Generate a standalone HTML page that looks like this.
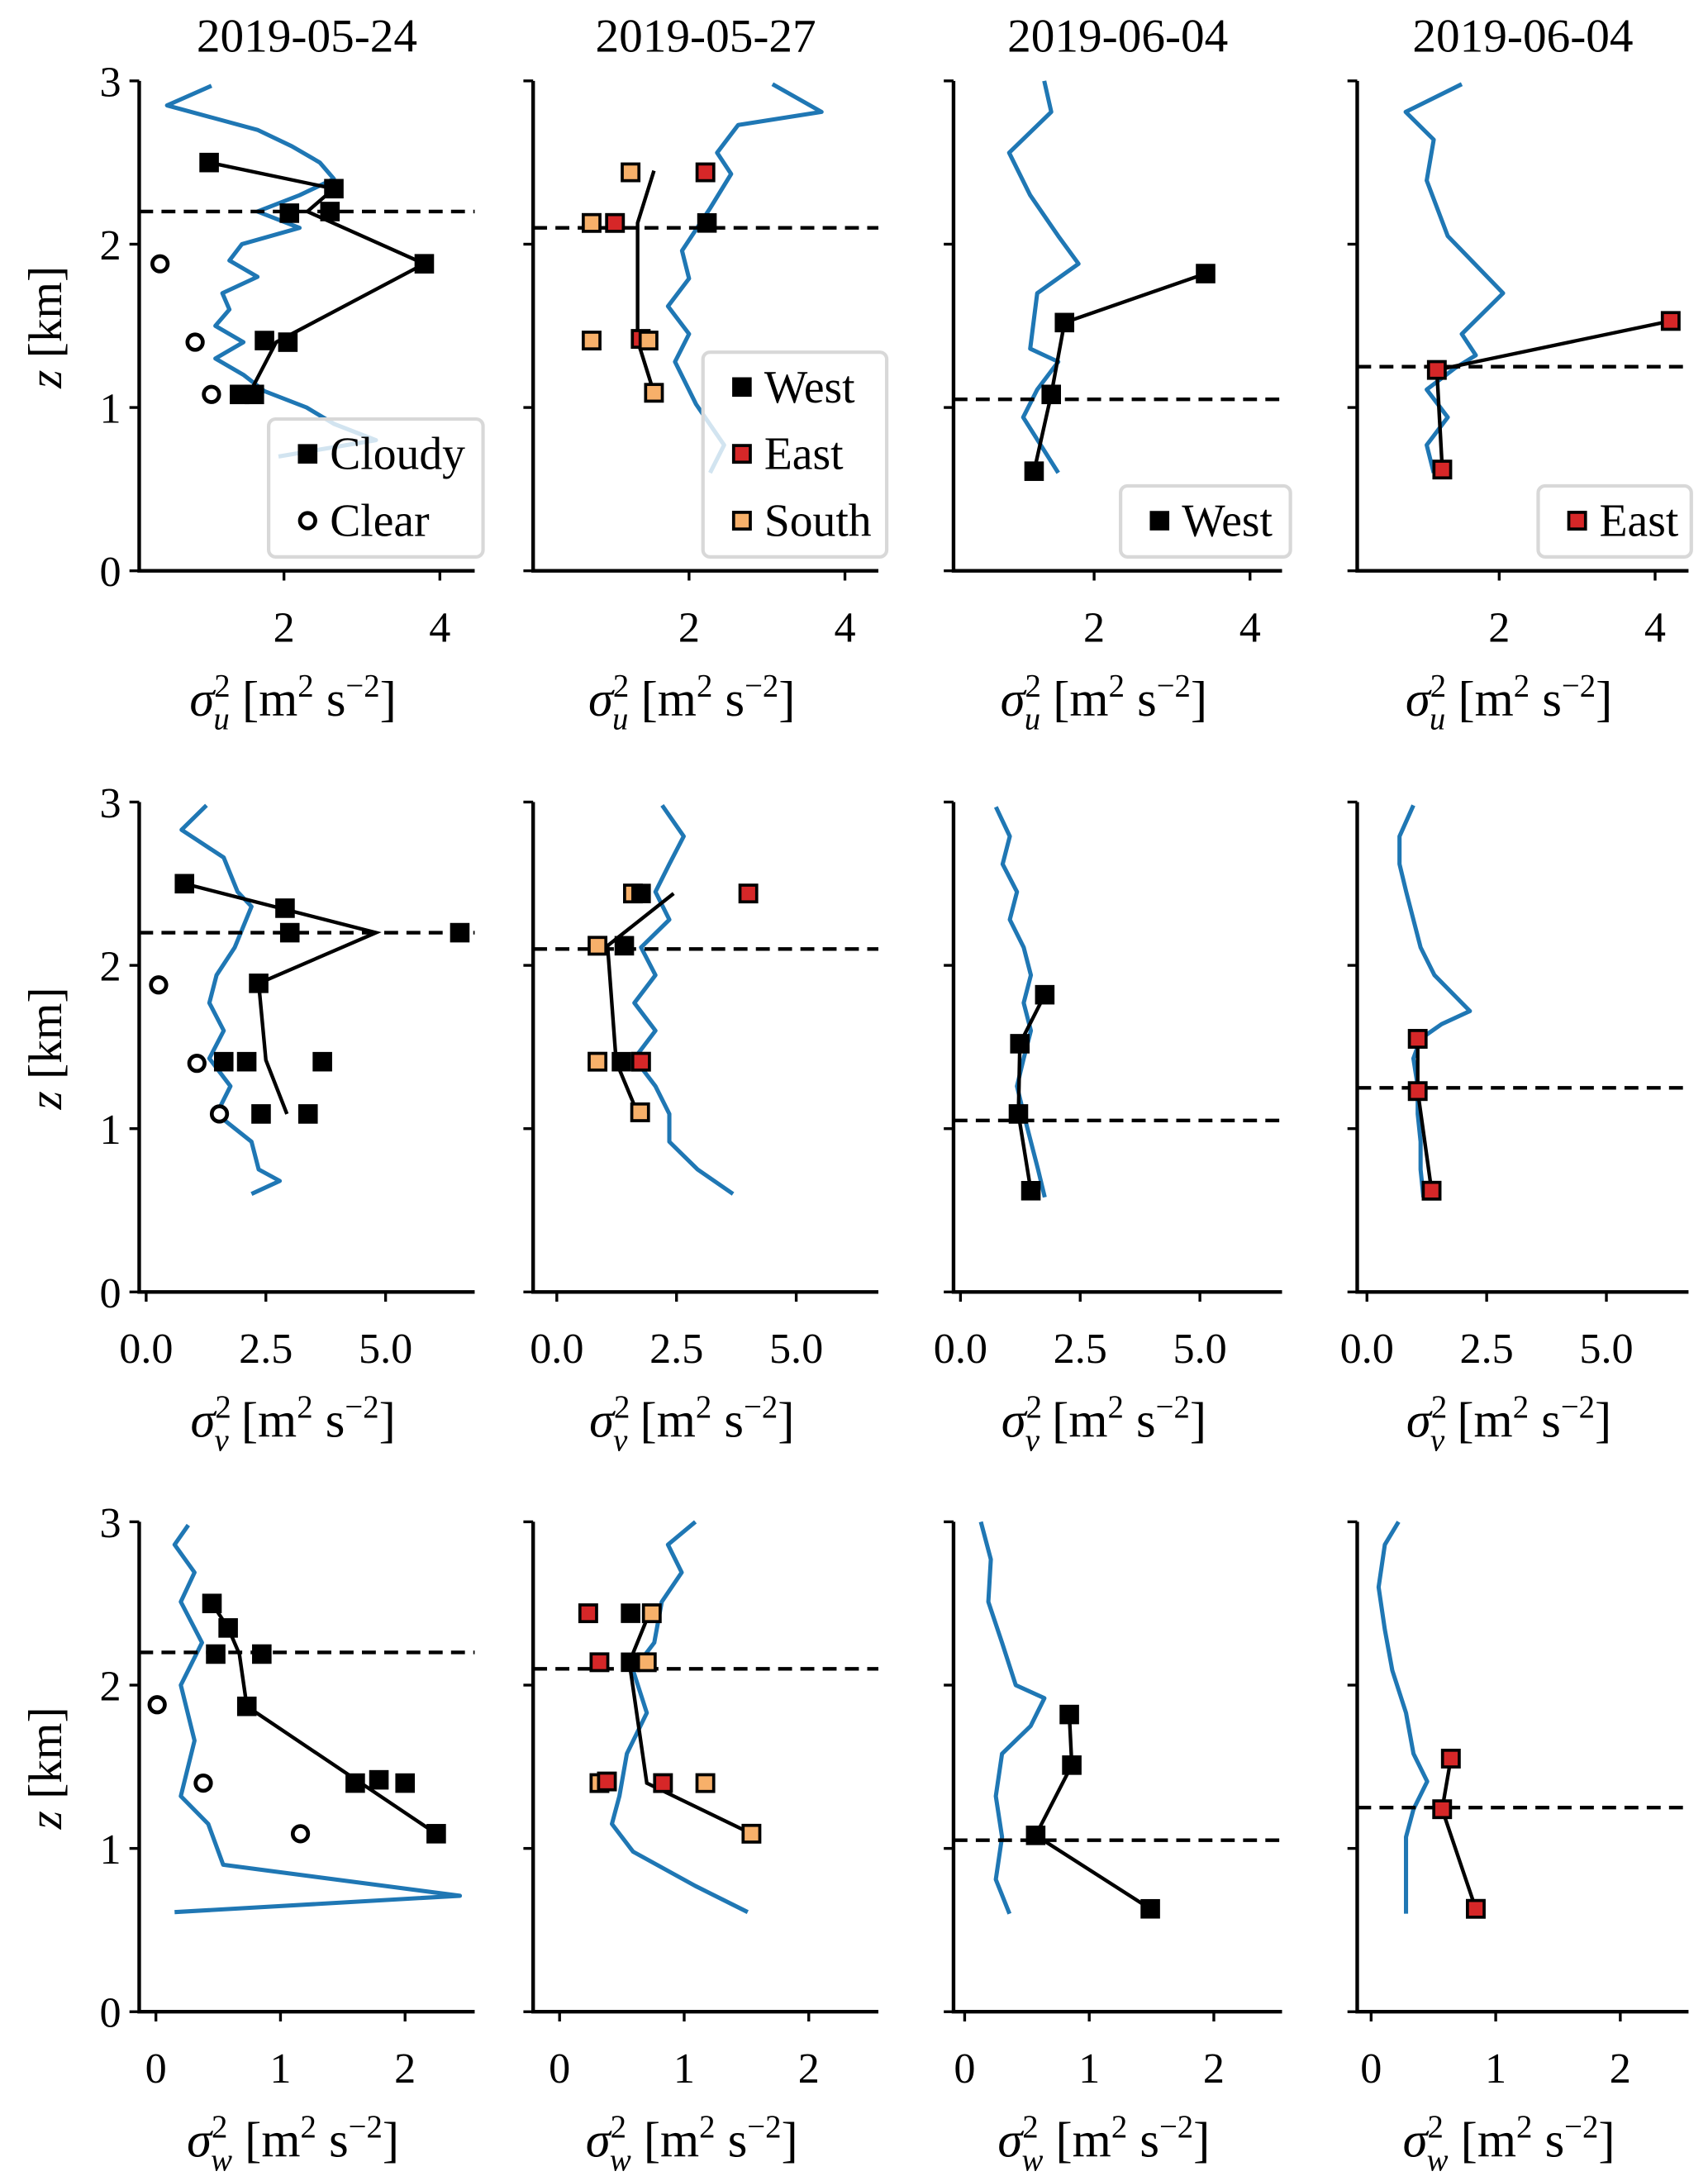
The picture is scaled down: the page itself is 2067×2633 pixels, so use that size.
<!DOCTYPE html>
<html><head><meta charset="utf-8"><style>
html,body{margin:0;padding:0;background:#fff}
svg{display:block}
text{font-family:"Liberation Serif",serif;fill:#000}
</style></head><body>
<svg id="chart" width="2067" height="2633" viewBox="0 0 1227 1563" preserveAspectRatio="none" xmlns="http://www.w3.org/2000/svg"></svg>
<script>
// ---------- data ----------
const titles = ["2019-05-24","2019-05-27","2019-06-04","2019-06-04"];
const yTicks = [0,1,2,3];
const xTicksR1 = [2,4];
const xTicksR2 = [0,2.5,5];
const xTickLabelsR2 = ["0.0","2.5","5.0"];
const xTicksR3 = [0,1,2];
const pblHeights = [2.2,2.1,1.05,1.25];

// Row 1 (sigma_u^2)
const r1c1BlueZ=[2.97,2.85,2.7,2.6,2.5,2.4,2.3,2.2,2.1,2.0,1.9,1.8,1.7,1.6,1.5,1.4,1.3,1.2,1.1,1.0,0.9,0.8,0.7];
const r1c1BlueX=[1.07,0.5,1.66,2.1,2.46,2.64,2.2,1.66,2.2,1.46,1.3,1.66,1.21,1.3,1.12,1.48,1.12,1.48,1.75,2.29,2.64,3.18,1.93];
const r1c1MZ=[2.5,2.34,2.2,2.19,1.88,1.41,1.4,1.08,1.08];
const r1c1MX=[1.04,2.64,2.59,2.07,3.8,1.75,2.05,1.43,1.62];
const r1c1MC=["k","k","k","k","k","k","k","k","k"];
const r1c1LZ=[2.5,2.34,2.2,1.88,1.4,1.08];
const r1c1LX=[1.04,2.64,2.3,3.8,1.9,1.55];
const r1c1CZ=[1.88,1.4,1.08];
const r1c1CX=[0.41,0.86,1.07];

const r1c2BlueZ=[2.98,2.81,2.73,2.56,2.43,2.22,1.96,1.79,1.62,1.45,1.28,1.02,0.77,0.6];
const r1c2BlueX=[3.07,3.7,2.63,2.36,2.54,2.27,1.91,2.0,1.73,2.0,1.82,2.09,2.45,2.27];
const r1c2MZ=[2.44,2.44,2.13,2.13,2.13,1.41,1.42,1.41,1.09];
const r1c2MX=[1.25,2.21,0.75,1.05,2.23,0.75,1.38,1.48,1.55];
const r1c2MC=["o","r","o","r","k","o","r","o","o"];
const r1c2LZ=[2.45,2.13,1.41,1.09];
const r1c2LX=[1.55,1.34,1.34,1.55];

const r1c3BlueZ=[3.0,2.81,2.56,2.3,2.05,1.88,1.7,1.36,1.28,1.11,0.94,0.6];
const r1c3BlueX=[1.36,1.45,0.91,1.18,1.54,1.8,1.27,1.18,1.54,1.27,1.09,1.54];
const r1c3MZ=[1.82,1.52,1.08,0.61];
const r1c3MX=[3.43,1.62,1.45,1.23];
const r1c3MC=["k","k","k","k"];

const r1c4BlueZ=[2.98,2.81,2.64,2.39,2.05,1.7,1.45,1.32,1.24,1.11,0.94,0.77,0.6];
const r1c4BlueX=[1.52,0.8,1.16,1.07,1.34,2.05,1.52,1.7,1.43,1.07,1.34,1.07,1.16];
const r1c4MZ=[1.53,1.23,0.62];
const r1c4MX=[4.2,1.2,1.27];
const r1c4MC=["r","r","r"];

// Row 2 (sigma_v^2)
const r2c1BlueZ=[2.98,2.83,2.66,2.45,2.36,2.11,1.94,1.77,1.6,1.43,1.26,1.09,0.92,0.75,0.68,0.6];
const r2c1BlueX=[1.26,0.74,1.62,1.91,2.2,1.85,1.47,1.32,1.62,1.32,1.76,1.47,2.2,2.35,2.79,2.2];
const r2c1MZ=[2.5,2.35,2.2,2.2,1.89,1.41,1.41,1.41,1.09,1.09];
const r2c1MX=[0.8,2.9,3.0,6.55,2.35,1.62,2.1,3.68,2.4,3.38];
const r2c1MC=["k","k","k","k","k","k","k","k","k","k"];
const r2c1LZ=[2.5,2.2,1.89,1.42,1.09];
const r2c1LX=[0.8,4.8,2.35,2.5,2.94];
const r2c1CZ=[1.88,1.4,1.09];
const r2c1CX=[0.26,1.06,1.53];

const r2c2BlueZ=[2.98,2.79,2.62,2.45,2.28,2.11,1.94,1.77,1.6,1.43,1.26,1.09,0.92,0.75,0.6];
const r2c2BlueX=[2.2,2.65,2.35,2.06,2.35,1.76,2.06,1.62,2.06,1.62,2.06,2.35,2.35,2.94,3.68];
const r2c2MZ=[2.44,2.44,2.44,2.12,2.12,1.41,1.41,1.41,1.1];
const r2c2MX=[1.59,1.76,4.0,0.85,1.41,0.85,1.35,1.76,1.74];
const r2c2MC=["o","k","r","o","k","o","k","r","o"];
const r2c2LZ=[2.44,2.12,1.41,1.1];
const r2c2LX=[2.44,1.06,1.24,1.68];

const r2c3BlueZ=[2.97,2.79,2.62,2.45,2.28,2.11,1.94,1.77,1.6,1.43,1.26,1.09,0.92,0.75,0.58];
const r2c3BlueX=[0.74,1.03,0.88,1.18,1.03,1.32,1.47,1.32,1.47,1.32,1.18,1.32,1.47,1.62,1.76];
const r2c3MZ=[1.82,1.52,1.09,0.62];
const r2c3MX=[1.76,1.24,1.21,1.47];
const r2c3MC=["k","k","k","k"];

const r2c4BlueZ=[2.98,2.79,2.62,2.45,2.28,2.11,1.94,1.72,1.64,1.55,1.43,1.26,1.09,0.92,0.75,0.58];
const r2c4BlueX=[0.97,0.68,0.68,0.82,0.97,1.12,1.41,2.15,1.56,1.12,0.97,1.06,1.06,1.12,1.12,1.18];
const r2c4MZ=[1.55,1.23,0.62];
const r2c4MX=[1.06,1.06,1.35];
const r2c4MC=["r","r","r"];

// Row 3 (sigma_w^2)
const r3c1BlueZ=[2.98,2.86,2.69,2.51,2.26,2.0,1.66,1.32,1.15,0.9,0.71,0.61];
const r3c1BlueX=[0.26,0.15,0.31,0.2,0.37,0.2,0.31,0.2,0.42,0.54,2.44,0.15];
const r3c1MZ=[2.5,2.35,2.19,2.19,1.87,1.4,1.42,1.4,1.09];
const r3c1MX=[0.45,0.58,0.48,0.85,0.73,1.6,1.79,2.0,2.25];
const r3c1MC=["k","k","k","k","k","k","k","k","k"];
const r3c1LZ=[2.5,2.35,2.19,1.87,1.09];
const r3c1LX=[0.45,0.58,0.67,0.73,2.25];
const r3c1CZ=[1.88,1.4,1.09];
const r3c1CX=[0.01,0.38,1.16];

const r3c2BlueZ=[3.0,2.86,2.69,2.51,2.26,2.09,1.83,1.58,1.32,1.15,0.98,0.77,0.61];
const r3c2BlueX=[1.09,0.87,0.98,0.82,0.76,0.59,0.7,0.54,0.48,0.42,0.59,1.09,1.51];
const r3c2MZ=[2.44,2.44,2.44,2.14,2.14,2.14,1.4,1.41,1.4,1.4,1.09];
const r3c2MX=[0.23,0.57,0.74,0.32,0.57,0.7,0.32,0.38,0.83,1.17,1.54];
const r3c2MC=["r","k","o","r","k","o","o","r","r","o","o"];
const r3c2LZ=[2.44,2.14,1.4,1.09];
const r3c2LX=[0.72,0.56,0.7,1.54];

const r3c3BlueZ=[3.0,2.77,2.51,2.26,2.0,1.92,1.75,1.58,1.32,1.07,0.81,0.6];
const r3c3BlueX=[0.13,0.21,0.19,0.3,0.41,0.64,0.53,0.3,0.25,0.3,0.25,0.36];
const r3c3MZ=[1.82,1.51,1.08,0.63];
const r3c3MX=[0.84,0.86,0.57,1.49];
const r3c3MC=["k","k","k","k"];

const r3c4BlueZ=[3.0,2.86,2.6,2.34,2.09,1.83,1.58,1.41,1.24,1.07,0.81,0.6];
const r3c4BlueX=[0.22,0.11,0.06,0.11,0.17,0.28,0.34,0.45,0.34,0.28,0.28,0.28];
const r3c4MZ=[1.55,1.24,0.63];
const r3c4MX=[0.64,0.57,0.84];
const r3c4MC=["r","r","r"];

// ---------- layout ----------
const NS="http://www.w3.org/2000/svg";
const svg=document.getElementById('chart');
const spineL=[100,383,685,975], spineR=[341,631,921,1213];
const rowBase=[410,928,1445], ZS=117.3;
const xZero=[[92,383,674,965],[105,400,690,982],[112,402,693,985]];
const xScale=[56,34.4,89.5];
const colors={k:"#000000",r:"#d62728",o:"#f7b06a"};
const blue="#1f77b4";
const panels=[
 [{bz:r1c1BlueZ,bx:r1c1BlueX,mz:r1c1MZ,mx:r1c1MX,mc:r1c1MC,lz:r1c1LZ,lx:r1c1LX,cz:r1c1CZ,cx:r1c1CX},
  {bz:r1c2BlueZ,bx:r1c2BlueX,mz:r1c2MZ,mx:r1c2MX,mc:r1c2MC,lz:r1c2LZ,lx:r1c2LX},
  {bz:r1c3BlueZ,bx:r1c3BlueX,mz:r1c3MZ,mx:r1c3MX,mc:r1c3MC,lz:r1c3MZ,lx:r1c3MX},
  {bz:r1c4BlueZ,bx:r1c4BlueX,mz:r1c4MZ,mx:r1c4MX,mc:r1c4MC,lz:r1c4MZ,lx:r1c4MX}],
 [{bz:r2c1BlueZ,bx:r2c1BlueX,mz:r2c1MZ,mx:r2c1MX,mc:r2c1MC,lz:r2c1LZ,lx:r2c1LX,cz:r2c1CZ,cx:r2c1CX},
  {bz:r2c2BlueZ,bx:r2c2BlueX,mz:r2c2MZ,mx:r2c2MX,mc:r2c2MC,lz:r2c2LZ,lx:r2c2LX},
  {bz:r2c3BlueZ,bx:r2c3BlueX,mz:r2c3MZ,mx:r2c3MX,mc:r2c3MC,lz:r2c3MZ,lx:r2c3MX},
  {bz:r2c4BlueZ,bx:r2c4BlueX,mz:r2c4MZ,mx:r2c4MX,mc:r2c4MC,lz:r2c4MZ,lx:r2c4MX}],
 [{bz:r3c1BlueZ,bx:r3c1BlueX,mz:r3c1MZ,mx:r3c1MX,mc:r3c1MC,lz:r3c1LZ,lx:r3c1LX,cz:r3c1CZ,cx:r3c1CX},
  {bz:r3c2BlueZ,bx:r3c2BlueX,mz:r3c2MZ,mx:r3c2MX,mc:r3c2MC,lz:r3c2LZ,lx:r3c2LX},
  {bz:r3c3BlueZ,bx:r3c3BlueX,mz:r3c3MZ,mx:r3c3MX,mc:r3c3MC,lz:r3c3MZ,lx:r3c3MX},
  {bz:r3c4BlueZ,bx:r3c4BlueX,mz:r3c4MZ,mx:r3c4MX,mc:r3c4MC,lz:r3c4MZ,lx:r3c4MX}]
];
const subs=["u","v","w"];

function mk(tag,attrs,parent){const e=document.createElementNS(NS,tag);for(const k in attrs)e.setAttribute(k,attrs[k]);(parent||svg).appendChild(e);return e;}

// titles
titles.forEach((t,c)=>{
 const e=mk('text',{x:(spineL[c]+spineR[c])/2,y:37,'text-anchor':'middle','font-size':34});
 
 
 e.textContent=t;
});

for(let r=0;r<3;r++){
 const base=rowBase[r];
 const yOf=z=>base-z*ZS;
 for(let c=0;c<4;c++){
  const xOf=v=>xZero[r][c]+v*xScale[r];
  const p=panels[r][c];
  const g=mk('g',{});
  
  
  const bl=mk('polyline',{points:p.bz.map((z,i)=>xOf(p.bx[i])+','+yOf(z)).join(' '),fill:'none',stroke:blue,'stroke-width':3,'stroke-linejoin':'round'},g);
  
  
  const dl=mk('line',{x1:spineL[c],x2:spineR[c],y1:yOf(pblHeights[c]),y2:yOf(pblHeights[c]),stroke:'#000','stroke-width':2.6,'stroke-dasharray':'10,6'},g);
  
  
  const ml=mk('polyline',{points:p.lz.map((z,i)=>xOf(p.lx[i])+','+yOf(z)).join(' '),fill:'none',stroke:'#000','stroke-width':2.6},g);
  
  
  p.mz.forEach((z,i)=>{
   const col=colors[p.mc[i]];
   const s=p.mc[i]==='k'?14:12;
   const m=mk('rect',{x:xOf(p.mx[i])-s/2,y:yOf(z)-s/2,width:s,height:s,fill:col,stroke:'#000','stroke-width':p.mc[i]==='k'?0:2.2},g);
   
   
  });
  if(p.cz){p.cz.forEach((z,i)=>{
   const m=mk('circle',{cx:xOf(p.cx[i]),cy:yOf(z),r:5.5,fill:'#fff',stroke:'#000','stroke-width':2.8},g);
   
   
  });}
  const sp=mk('path',{d:`M${spineL[c]},${yOf(3)} V${base} H${spineR[c]}`,fill:'none',stroke:'#000','stroke-width':2.6},g);
  
  
  yTicks.forEach(t=>{
   mk('line',{x1:spineL[c]-7,x2:spineL[c],y1:yOf(t),y2:yOf(t),stroke:'#000','stroke-width':2},g);
   if(c===0){
    const tl=mk('text',{x:spineL[c]-13,y:yOf(t)+11,'text-anchor':'end','font-size':31},g);
    
    
    tl.textContent=t;
   }
  });
  const xt=r===0?xTicksR1:(r===1?xTicksR2:xTicksR3);
  xt.forEach((t,i)=>{
   mk('line',{x1:xOf(t),x2:xOf(t),y1:base,y2:base+7,stroke:'#000','stroke-width':2},g);
   const tl=mk('text',{x:xOf(t),y:base+51,'text-anchor':'middle','font-size':31},g);
   
   
   tl.textContent=r===1?xTickLabelsR2[i]:t;
  });
  const cx=(spineL[c]+spineR[c])/2-10;
  const xl=mk('text',{x:cx,y:base+104,'text-anchor':'middle','font-size':36},g);
  
  
  xl.innerHTML=`<tspan font-style="italic">σ</tspan><tspan font-size="23" dy="-14">2</tspan><tspan font-size="23" font-style="italic" dx="-12" dy="24">${subs[r]}</tspan><tspan dy="-10"> [m</tspan><tspan font-size="23" dy="-14">2</tspan><tspan dy="14"> s</tspan><tspan font-size="23" dy="-14">−2</tspan><tspan dy="14">]</tspan>`;
  if(c===0){
   const yl=mk('text',{x:0,y:0,'text-anchor':'middle','font-size':34,transform:`translate(44,${base-175}) rotate(-90)`},g);
   
   
   yl.innerHTML='<tspan font-style="italic">z</tspan> [km]';
  }
 }
}

function legend(x,y,w,h,entries,name){
 const g=mk('g',{});
 
 
 mk('rect',{x:x,y:y,width:w,height:h,rx:5,fill:'rgba(255,255,255,0.8)',stroke:'#d8d8d8','stroke-width':2.5},g);
 entries.forEach((e,i)=>{
  const cy=y+25+i*48;
  if(e.t==='circle'){mk('circle',{cx:x+28,cy:cy,r:5.5,fill:'#fff',stroke:'#000','stroke-width':2.8},g);}
  else{const s=e.c==='k'?14:12;mk('rect',{x:x+28-s/2,y:cy-s/2,width:s,height:s,fill:colors[e.c],stroke:'#000','stroke-width':e.c==='k'?0:2.2},g);}
  const t=mk('text',{x:x+44,y:cy+11,'font-size':33},g);
  
  
  t.textContent=e.l;
 });
}
legend(193,301,154,99,[{c:'k',l:'Cloudy'},{t:'circle',l:'Clear'}],'legend-sky');
legend(505,253,132,147,[{c:'k',l:'West'},{c:'r',l:'East'},{c:'o',l:'South'}],'legend-direction');
legend(805,349,122,51,[{c:'k',l:'West'}],'legend-west');
legend(1105,349,110,51,[{c:'r',l:'East'}],'legend-east');
</script>
</body></html>
